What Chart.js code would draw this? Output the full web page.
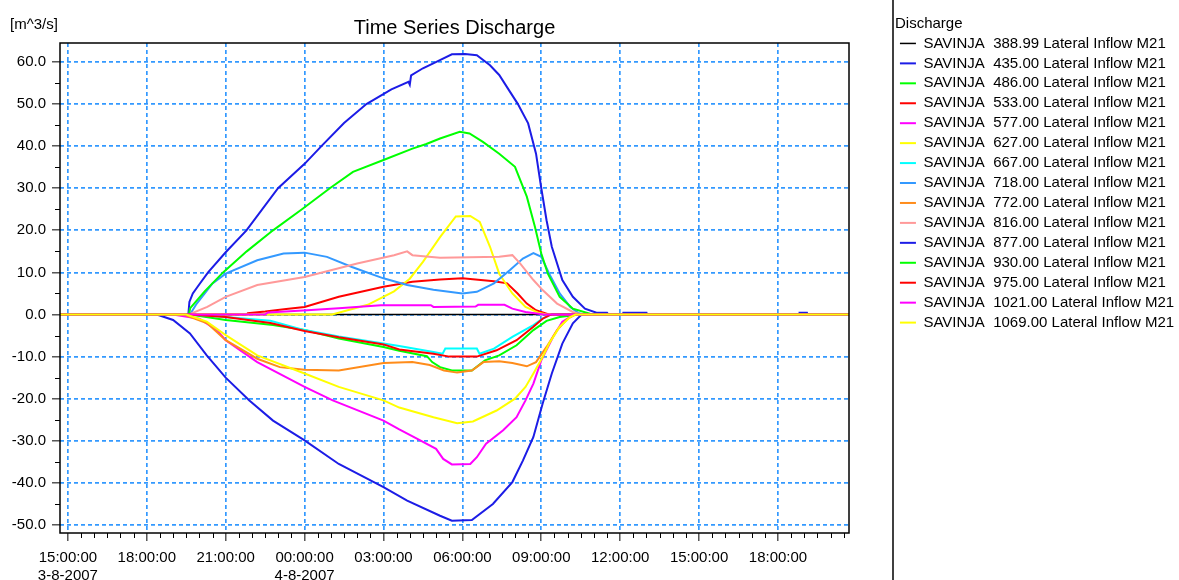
<!DOCTYPE html>
<html>
<head>
<meta charset="utf-8">
<title>Time Series Discharge</title>
<script src="https://cdn.jsdelivr.net/npm/chart.js@4.4.1/dist/chart.umd.min.js"></script>
<style>
  html, body { margin: 0; padding: 0; background: #fff; }
  canvas { display: block; }
</style>
</head>
<body>
<canvas id="mycanvas" width="1179" height="580"></canvas>
<script>
// x values are hours counted from 3-8-2007 00:00
var stations = ['388.99', '435.00', '486.00', '533.00', '577.00', '627.00', '667.00', '718.00',
                '772.00', '816.00', '877.00', '930.00', '975.00', '1021.00', '1069.00'];

var xTickHours = [15, 18, 21, 24, 27, 30, 33, 36, 39, 42];
var xTickTimes = ['15:00:00', '18:00:00', '21:00:00', '00:00:00', '03:00:00', '06:00:00',
                  '09:00:00', '12:00:00', '15:00:00', '18:00:00'];
var xTickDates = ['3-8-2007', '', '', '4-8-2007', '', '', '', '', '', ''];
var yTickValues = [-50, -40, -30, -20, -10, 0, 10, 20, 30, 40, 50, 60];

var q388 = [[14.7, 0], [44.7, 0]];
var q435 = [[14.7, 0], [19.58, 0], [19.62, 3], [19.75, 5], [20.0, 7.2], [20.33, 10], [21.0, 14.8],
  [21.79, 20], [22.99, 30], [24.0, 35.8], [24.64, 40], [25.5, 45.5], [26.35, 50], [27.3, 53.5],
  [27.95, 55.3], [28.0, 54.6], [28.05, 56.8], [28.5, 58.5], [29.01, 60], [29.6, 61.8], [30.1, 61.9],
  [30.55, 61.6], [31.05, 59.2], [31.4, 56.9], [31.8, 53], [32.1, 50.1], [32.5, 45.4], [32.8, 38.2],
  [33.0, 30], [33.2, 22.4], [33.4, 16.1], [33.8, 8.2], [34.2, 4.2], [34.66, 1.4], [35.1, 0.45],
  [35.5, 0.45], [35.55, 0], [36.1, 0], [36.12, 0.45], [37.0, 0.45], [37.02, 0], [42.8, 0],
  [42.82, 0.45], [43.1, 0.45], [43.12, 0], [44.7, 0]];
var q486 = [[14.7, 0], [19.64, 0], [21.0, -1.3], [22.8, -2.5], [24.0, -3.7], [25.3, -5.7], [27.0, -7.7],
  [27.6, -8.6], [28.65, -9.9], [28.85, -11.3], [29.15, -12.5], [29.6, -13.3], [30.36, -13.3],
  [30.86, -10.9], [31.4, -9.7], [32.06, -7.3], [32.7, -3.7], [33.2, -1.5], [33.7, -0.6], [34.2, -0.2],
  [34.4, 0], [44.7, 0]];
var q533 = [[14.7, 0], [21.8, 0], [21.84, 0.3], [22.5, 0.7], [23.3, 1.3], [24.0, 1.8], [25.3, 4.2],
  [27.0, 6.6], [28.1, 7.8], [29.15, 8.3], [30.0, 8.6], [31.2, 7.9], [31.7, 7.4], [32.1, 5], [32.45, 2.6],
  [32.8, 1], [33.2, 0.2], [33.3, 0], [44.7, 0]];
var q577 = [[14.7, 0], [18.99, 0], [20.0, -1], [20.66, -3.7], [21.0, -6.1], [22.2, -11.3], [24.0, -17.2],
  [25.07, -20.4], [27.0, -25.2], [27.6, -27.3], [28.27, -29.5], [29.0, -31.9], [29.27, -34.3],
  [29.6, -35.6], [30.3, -35.5], [30.55, -33.9], [30.9, -30.7], [31.55, -27.5], [32.06, -24.4],
  [32.4, -20.4], [32.7, -16.4], [33.0, -10.9], [33.45, -5.3], [33.8, -1.7], [34.2, -0.2], [34.3, 0],
  [44.7, 0]];
var q627 = [[14.7, 0], [25.05, 0], [26.4, 2.3], [27.4, 5.5], [28.0, 8.5], [28.5, 12.5], [29.15, 18.4],
  [29.75, 23.3], [30.3, 23.4], [30.66, 22], [31.05, 16.1], [31.4, 9.7], [31.9, 5], [32.4, 1.8],
  [32.9, 0.4], [33.2, 0], [44.7, 0]];
var q667 = [[14.7, 0], [19.64, 0], [21.0, -0.6], [22.7, -1.5], [24.0, -3.7], [25.3, -5.2], [27.0, -6.9],
  [27.6, -7.5], [28.9, -8.9], [29.25, -9.3], [29.35, -8.1], [30.55, -8.1], [30.65, -9.3], [31.2, -8.1],
  [31.9, -5.3], [32.7, -2.5], [33.05, -1], [33.3, -0.2], [33.4, 0], [44.7, 0]];
var q718 = [[14.7, 0], [19.64, 0], [19.9, 2.6], [20.5, 7.4], [21.0, 9.7], [22.2, 12.9], [23.2, 14.5],
  [24.0, 14.7], [24.85, 13.7], [25.8, 11.3], [27.0, 8.6], [27.9, 7], [28.9, 5.9], [30.0, 5],
  [30.55, 5.4], [31.2, 7.4], [31.8, 10.5], [32.3, 13.3], [32.7, 14.6], [33.0, 13.7], [33.3, 9.7],
  [33.7, 5], [34.1, 1.8], [34.4, 0.4], [34.6, 0], [44.7, 0]];
var q772 = [[14.7, 0], [19.4, 0], [20.3, -2.1], [21.0, -6.1], [22.2, -10.5], [23.06, -12.5], [24.0, -13.1],
  [25.3, -13.3], [27.0, -11.5], [28.1, -11.3], [28.76, -12], [29.3, -13.3], [29.8, -13.8],
  [30.36, -13.3], [30.8, -11.3], [31.4, -11.1], [31.9, -11.5], [32.45, -12.3], [32.8, -11.3],
  [33.2, -7.7], [33.6, -3.7], [34.0, -1], [34.3, 0], [44.7, 0]];
var q816 = [[14.7, 0], [19.6, 0], [20.3, 1.8], [21.0, 4.2], [22.2, 7], [24.0, 8.9], [26.0, 12.1],
  [27.4, 14.1], [27.9, 15], [28.1, 14.1], [29.15, 13.5], [31.4, 13.7], [31.9, 14.1], [32.2, 12.1],
  [32.7, 8.2], [33.05, 5.8], [33.6, 2.6], [34.2, 0.6], [34.5, 0], [44.7, 0]];
var q877 = [[14.7, 0], [18.38, 0], [19.0, -1.3], [19.64, -4.5], [20.28, -9.7], [21.0, -15], [21.9, -20.4],
  [22.8, -25.2], [24.0, -29.9], [25.3, -35.5], [27.0, -41], [27.9, -44.2], [29.15, -47.8], [29.6, -49],
  [30.36, -48.8], [31.16, -45], [31.9, -39.8], [32.3, -34.7], [32.7, -29.1], [33.05, -21.2],
  [33.4, -14], [33.8, -6.9], [34.2, -2.1], [34.5, -0.2], [34.6, 0], [44.7, 0]];
var q930 = [[14.7, 0], [19.6, 0], [19.65, 1.5], [20.2, 5.5], [20.9, 10], [21.8, 15], [22.8, 20], [23.9, 25],
  [24.96, 30], [25.84, 33.9], [27.0, 36.7], [28.1, 39.4], [28.63, 40.5], [29.15, 41.8], [29.9, 43.4],
  [30.27, 43], [30.78, 41], [31.4, 38.2], [32.0, 35.1], [32.45, 28], [32.76, 20.8], [33.0, 14.5],
  [33.25, 9.7], [33.7, 4.2], [34.2, 1.4], [34.85, 0.2], [35.0, 0], [44.7, 0]];
var q975 = [[14.7, 0], [19.64, 0], [21.0, -0.6], [22.7, -2], [24.0, -3.9], [25.3, -5.4], [27.0, -7.1],
  [27.6, -8.3], [28.9, -9.3], [29.5, -10], [30.55, -10], [31.3, -8.5], [32.06, -6.1], [32.7, -2.9],
  [33.05, -1], [33.3, -0.2], [33.4, 0], [44.7, 0]];
var q1021 = [[14.7, 0], [22.5, 0], [22.6, 0.5], [24.1, 1], [25.3, 1.5], [26.9, 2.2], [28.8, 2.2], [28.9, 1.8],
  [30.5, 1.9], [30.6, 2.3], [31.6, 2.3], [31.9, 1.4], [32.4, 0.6], [32.9, 0.2], [33.1, 0], [44.7, 0]];
var q1069 = [[14.7, 0], [19.5, 0], [20.28, -1.7], [21.0, -4.9], [22.2, -9.7], [24.0, -14], [25.3, -17.2],
  [27.0, -20.4], [27.6, -22.1], [28.9, -24.4], [29.8, -25.8], [30.4, -25.4], [31.3, -22.8],
  [32.0, -20], [32.4, -17.2], [32.7, -14], [33.05, -10.1], [33.3, -6.9], [33.7, -2.9], [34.1, -0.6],
  [34.3, 0], [44.7, 0]];

var series = [q388, q435, q486, q533, q577, q627, q667, q718, q772, q816, q877, q930, q975, q1021, q1069];
var colors = ['#000000', '#1c1ce6', '#00ff00', '#ff0000', '#ff00ff', '#ffff00', '#00ffff', '#3399ff',
              '#ff8c1a', '#ff9999', '#1c1ce6', '#00ff00', '#ff0000', '#ff00ff', '#ffff00'];

var FONT = '"Liberation Sans", Arial, sans-serif';
Chart.defaults.font.family = FONT;
Chart.defaults.color = '#000';

var datasets = [];
for (var i = 0; i < series.length; i++) {
  datasets.push({
    label: 'SAVINJA  ' + stations[i] + ' Lateral Inflow M21',
    data: series[i],
    borderColor: colors[i],
    backgroundColor: colors[i],
    borderWidth: i === 0 ? 1.5 : 2,
    pointRadius: 0,
    tension: 0,
    fill: false,
    order: series.length - i   // later stations are painted on top
  });
}

// frame, minor ticks, unit text and the legend separator
var extras = {
  id: 'extras',
  afterDraw: function(chart) {
    var ctx = chart.ctx, a = chart.chartArea;
    var xs = chart.scales.x, ys = chart.scales.y;
    ctx.save();
    ctx.strokeStyle = '#000';
    ctx.lineWidth = 1;
    ctx.beginPath();
    for (var h = Math.ceil(xs.min * 2) / 2; h <= xs.max; h += 0.5) {
      if (h % 3 === 0) continue;
      var px = Math.round(xs.getPixelForValue(h)) + 0.5;
      ctx.moveTo(px, a.bottom);
      ctx.lineTo(px, a.bottom + 5);
    }
    for (var v = Math.ceil(ys.min / 5) * 5; v <= ys.max; v += 5) {
      if (v % 10 === 0) continue;
      var py = Math.round(ys.getPixelForValue(v)) + 0.5;
      ctx.moveTo(a.left - 5, py);
      ctx.lineTo(a.left, py);
    }
    ctx.stroke();

    ctx.lineWidth = 1.5;
    ctx.strokeRect(a.left, a.top, a.right - a.left, a.bottom - a.top);

    ctx.fillStyle = '#000';
    ctx.font = '15px ' + FONT;
    ctx.textBaseline = 'middle';
    ctx.textAlign = 'left';
    ctx.fillText('[m^3/s]', 10, 25);

    var lg = chart.legend;
    ctx.strokeStyle = '#404040';
    ctx.lineWidth = 2;
    ctx.beginPath();
    ctx.moveTo(lg.left - 2, 0);
    ctx.lineTo(lg.left - 2, chart.height);
    ctx.stroke();
    ctx.restore();
  }
};

var ctx = document.getElementById('mycanvas');

var lineGraph = new Chart(ctx, {
  type: 'line',
  data: { datasets: datasets },
  plugins: [extras],
  options: {
    responsive: false,
    animation: false,
    events: [],
    layout: { padding: 0 },
    plugins: {
      tooltip: { enabled: false },
      title: {
        display: true,
        text: 'Time Series Discharge',
        color: '#000',
        fullSize: false,
        font: { size: 20, weight: 'normal' },
        padding: { top: 16, bottom: 3 }
      },
      legend: {
        position: 'right',
        align: 'start',
        maxWidth: 284,
        title: {
          display: true,
          text: 'Discharge',
          color: '#000',
          position: 'start',
          font: { size: 15 },
          padding: { top: 16, bottom: -3 }
        },
        labels: {
          usePointStyle: true,
          pointStyle: 'line',
          pointStyleWidth: 16,
          color: '#000',
          font: { size: 15 },
          padding: 4.94,
          sort: function(a, b) { return a.datasetIndex - b.datasetIndex; }
        }
      }
    },
    scales: {
      x: {
        type: 'linear',
        min: 14.7,
        max: 44.7,
        afterBuildTicks: function(s) {
          s.ticks = xTickHours.map(function(h) { return { value: h }; });
        },
        afterFit: function(s) { s.height = 47; },
        ticks: {
          autoSkip: false,
          maxRotation: 0,
          color: '#000',
          font: { size: 15 },
          padding: 8,
          callback: function(value) {
            var k = xTickHours.indexOf(value);
            if (k < 0) return '';
            return xTickDates[k] ? [xTickTimes[k], xTickDates[k]] : xTickTimes[k];
          }
        },
        grid: { color: '#3399ff', lineWidth: 1.7, tickColor: '#000', tickLength: 8, tickWidth: 1 },
        border: { display: false, dash: [4, 3] }
      },
      y: {
        type: 'linear',
        min: -51.9,
        max: 64.5,
        afterBuildTicks: function(s) {
          s.ticks = yTickValues.map(function(v) { return { value: v }; });
        },
        afterFit: function(s) { s.width = 60; },
        ticks: {
          color: '#000',
          font: { size: 15 },
          padding: 6,
          callback: function(value) { return value.toFixed(1); }
        },
        grid: { color: '#3399ff', lineWidth: 1.7, tickColor: '#000', tickLength: 8, tickWidth: 1 },
        border: { display: false, dash: [4, 3] }
      },
      gap: {
        type: 'linear',
        position: 'right',
        grid: { display: false, drawTicks: false },
        ticks: { display: false },
        border: { display: false },
        afterFit: function(s) { s.width = 46; }
      }
    }
  }
});
</script>
</body>
</html>
